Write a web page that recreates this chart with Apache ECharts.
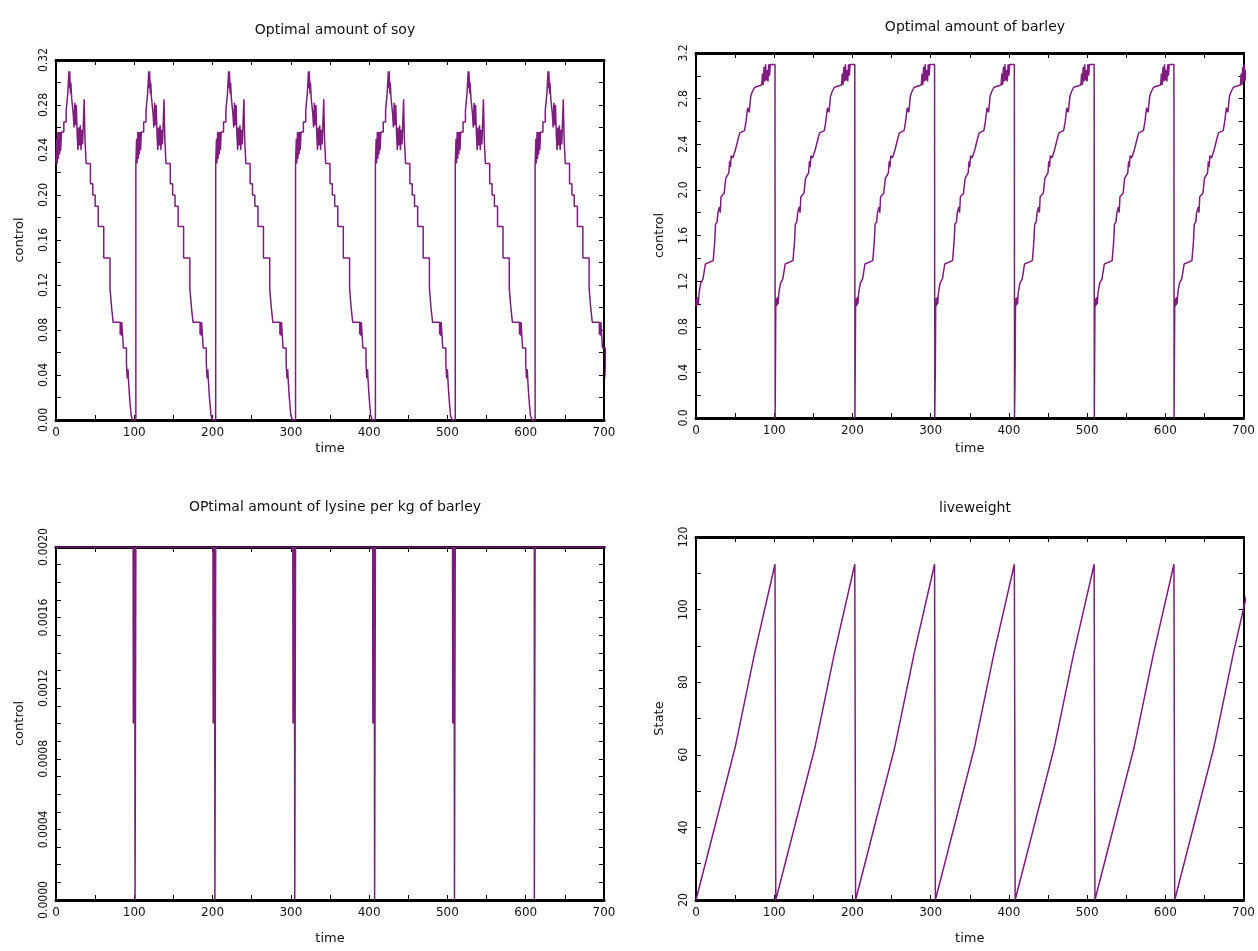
<!DOCTYPE html>
<html>
<head>
<meta charset="utf-8">
<script src="https://cdn.jsdelivr.net/npm/echarts@6/dist/echarts.min.js"></script>
<style>html,body{margin:0;background:#fff}#main{width:1258px;height:951px}</style>
</head>
<body>
<div id="main"></div>
<script>
// every panel repeats a ~102 day fattening cycle
var cycleStarts = [0, 102, 204, 306, 408, 510, 612];

// soy (control), [day in cycle, value]
var soyCycle = [[0,0.228],[1,0.25],[1.5,0.228],[2.5,0.256],[3,0.232],[4,0.256],[4.5,0.236],[5.5,0.256],[6,0.24],[7,0.256],
  [10,0.265],[13,0.275],[15,0.29],[16.5,0.31],[17,0.295],[17.5,0.31],[18.5,0.29],[19,0.3],[20,0.286],
  [22,0.272],[23,0.26],[24,0.282],[25,0.262],[26,0.28],[27,0.255],[28,0.24],[29,0.26],[30,0.244],[31,0.262],
  [32,0.24],[33,0.258],[34,0.245],[35,0.265],[36,0.285],[37,0.25],[38.5,0.228],
  [44,0.21],[47,0.2],[50,0.19],[54,0.172],[61,0.144],[69,0.117],[71,0.1],[73,0.087],[82,0.076],[82.5,0.087],
  [83.5,0.075],[84,0.087],[85,0.076],[86,0.064],[90,0.05],[91,0.037],[92,0.045],[92.5,0.037],[94,0.02],[96,0.004],[98,0]];

// barley (control)
var barleyStartLow = [0.98, 0.98, 0.98, 0.45, 0.45, 0.98, 0.98];
var barleyCycle = [[0.5,1.05],[1,0.98],[1.5,1.05],[2,0.99],[2.5,1.06],[3,1.0],[4,1.1],[6,1.18],[9,1.22],[12,1.35],
  [22,1.38],[24,1.55],[25,1.7],[27,1.72],[28,1.8],[30,1.85],[31,1.8],[32,1.94],[36,1.97],[38,2.1],[42,2.15],
  [43,2.25],[44,2.2],[45,2.3],[47,2.28],[50,2.34],[54,2.45],[56,2.5],[62,2.52],[64,2.6],[66,2.72],[68,2.68],
  [70,2.82],[72,2.86],[75,2.9],[84,2.92],[85,3.02],[86,2.92],[87,3.08],[88,2.95],[89,3.1],[90,2.96],[91,3.05],
  [92,2.95],[93,3.1],[94,3.0],[95,3.1],[101,3.1],[101.2,0]];

// lysine per kg of barley (control)
var lysineDipCycle = [[0,0.002],[98.5,0.002],[98.75,0.001],[99,0.002],[99.25,0.001],[99.5,0.002],[99.75,0.001],
  [100,0.002],[100.25,0.001],[100.5,0.002],[100.75,0.001],[101,0]];
var lysinePlainCycle = [[0,0.002],[101,0]];
var lysineCycleKind = ['dip', 'dip', 'dip', 'dip', 'dip', 'plain', 'plain'];

// liveweight (state)
var liveweightCycle = [[0,20],[25,41],[50,62],[75,88],[101,112.5]];

function repeatCycles(cycles) {
  var out = [];
  cycleStarts.forEach(function (s, i) {
    cycles[i].forEach(function (p) { out.push([s + p[0], p[1]]); });
  });
  return out;
}

var soyData = repeatCycles(cycleStarts.map(function () { return soyCycle; }));
var barleyData = repeatCycles(cycleStarts.map(function (s, i) { return [[0, barleyStartLow[i]]].concat(barleyCycle); }));
var lysineData = repeatCycles(lysineCycleKind.map(function (k) { return k === 'dip' ? lysineDipCycle : lysinePlainCycle; }));
var liveData = repeatCycles(cycleStarts.map(function () { return liveweightCycle; }));

var FONT = "'DejaVu Sans', sans-serif";
var NARROW = "'Liberation Sans Narrow', 'DejaVu Sans Condensed', sans-serif";
var LINE = '#7d1d7d';
var tick = { inside: true, length: 5, lineStyle: { color: '#000', width: 1 } };

function makeX(g, gap) {
  return [{
    type: 'value', gridIndex: g, min: 0, max: 700, interval: 100, position: 'bottom',
    name: 'time', nameLocation: 'middle', nameGap: gap,
    nameTextStyle: { fontFamily: FONT, fontSize: 13, color: '#111' },
    axisLine: { onZero: false, lineStyle: { color: '#000', width: 3 } },
    axisTick: tick,
    minorTick: { show: true, splitNumber: 2, length: 5, lineStyle: { color: '#000' } },
    splitLine: { show: false },
    axisLabel: { fontFamily: FONT, fontSize: 12, color: '#111', margin: 7 }
  }, {
    type: 'value', gridIndex: g, min: 0, max: 700, interval: 100, position: 'top',
    axisLine: { onZero: false, lineStyle: { color: '#000', width: 3 } },
    axisTick: tick,
    minorTick: { show: true, splitNumber: 2, length: 5, lineStyle: { color: '#000' } },
    splitLine: { show: false },
    axisLabel: { show: false }
  }];
}

function makeY(g, min, max, interval, minorSplit, dec, name, gap) {
  return [{
    type: 'value', gridIndex: g, min: min, max: max, interval: interval, position: 'left',
    name: name, nameLocation: 'middle', nameGap: gap, nameRotate: 90,
    nameTextStyle: { fontFamily: FONT, fontSize: 13, color: '#111' },
    axisLine: { onZero: false, lineStyle: { color: '#000', width: 2 } },
    axisTick: tick,
    minorTick: { show: true, splitNumber: minorSplit, length: 5, lineStyle: { color: '#000' } },
    splitLine: { show: false },
    axisLabel: {
      rotate: 90, fontFamily: NARROW, fontSize: 12, color: '#111', margin: 6,
      formatter: function (v) { return v.toFixed(dec); }
    }
  }, {
    type: 'value', gridIndex: g, min: min, max: max, interval: interval, position: 'right',
    axisLine: { onZero: false, lineStyle: { color: '#000', width: 2 } },
    axisTick: tick,
    minorTick: { show: true, splitNumber: minorSplit, length: 5, lineStyle: { color: '#000' } },
    splitLine: { show: false },
    axisLabel: { show: false }
  }];
}

function line(g, data, step) {
  return {
    type: 'line', xAxisIndex: 2 * g, yAxisIndex: 2 * g, data: data, step: step || false,
    showSymbol: false, symbol: 'none', clip: true,
    lineStyle: { color: LINE, width: 1.5 }
  };
}

var myChart = echarts.init(document.getElementById('main'));
var titleStyle = { fontFamily: FONT, fontSize: 14, fontWeight: 'normal', color: '#111' };
var option = {
  animation: false,
  backgroundColor: '#fff',
  title: [
    { text: 'Optimal amount of soy', left: 330, top: 18, textAlign: 'center', textStyle: titleStyle },
    { text: 'Optimal amount of barley', left: 970, top: 15, textAlign: 'center', textStyle: titleStyle },
    { text: 'OPtimal amount of lysine per kg of barley', left: 330, top: 495, textAlign: 'center', textStyle: titleStyle },
    { text: 'liveweight', left: 970, top: 496, textAlign: 'center', textStyle: titleStyle }
  ],
  grid: [
    { left: 56, top: 60, width: 548, height: 360 },
    { left: 696, top: 53, width: 548, height: 365 },
    { left: 56, top: 547, width: 548, height: 353 },
    { left: 696, top: 537, width: 548, height: 363 }
  ],
  xAxis: [].concat(makeX(0, 22), makeX(1, 24), makeX(2, 32), makeX(3, 32)),
  yAxis: [].concat(
    makeY(0, 0, 0.32, 0.04, 2, 2, 'control', 30),
    makeY(1, 0, 3.2, 0.4, 2, 1, 'control', 30),
    makeY(2, 0, 0.002, 0.0004, 4, 4, 'control', 30),
    makeY(3, 20, 120, 20, 2, 0, 'State', 30)
  ),
  series: [
    line(0, soyData, 'end'),
    line(1, barleyData),
    line(2, lysineData, 'end'),
    line(3, liveData)
  ]
};
myChart.setOption(option);
</script>
</body>
</html>
